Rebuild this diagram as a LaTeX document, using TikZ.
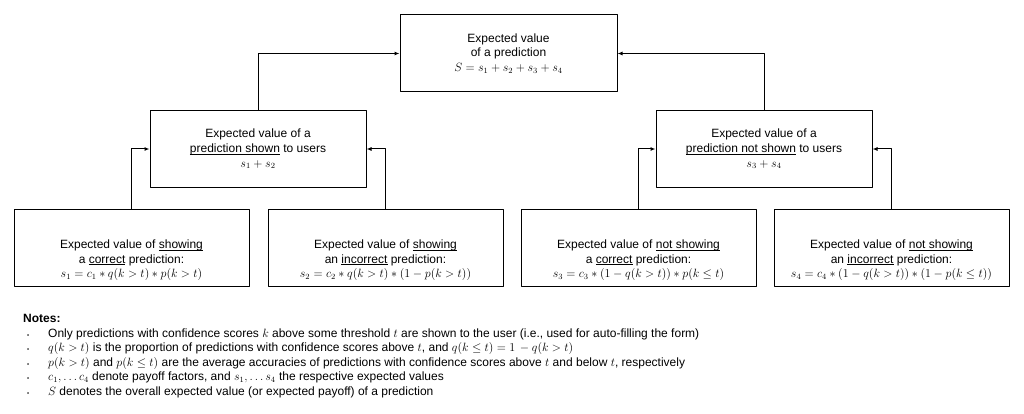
\documentclass[tikz,border=0pt]{standalone}
\usepackage{fontspec}
\setmainfont{Liberation Sans}
\usetikzlibrary{arrows.meta}
\newcommand{\undr}[1]{\setbox0\hbox{#1}\rlap{\rule[-1.8pt]{\wd0}{0.7pt}}\box0\relax}
\newcommand{\nbul}{\hspace*{4pt}\makebox[21pt][l]{\fontsize{6}{6}\selectfont\textbullet}}
\begin{document}
\begin{tikzpicture}[x=1pt,y=-1pt,>={Latex[length=5pt,width=4pt]},line join=round,
		font=\fontsize{12}{14.6}\selectfont,
		box/.style={draw,line width=1pt,minimum width=#1,minimum height=77pt,inner sep=0pt,align=center},
		txt/.style={inner sep=0pt,align=center},
		link/.style={->,line width=1pt}]
	\useasboundingbox (0,0) rectangle (1024,414);
	\node[box=217pt] (pred) at (508.5,53.5) {Expected value\\ of a prediction\\ $S = s_1 + s_2 + s_3 + s_4$};
	\node[box=216pt,minimum height=76pt] (shown) at (258,149) {Expected value of a\\ \undr{prediction shown} to users\\ $s_1 + s_2$};
	\node[box=216pt,minimum height=76pt] (notshown) at (764,149) {Expected value of a\\ \undr{prediction not shown} to users\\ $s_3 + s_4$};
	\node[box=235pt] (sc) at (131.5,247.5) {};
	\node[box=235pt] (si) at (385.5,247.5) {};
	\node[box=235pt] (nc) at (638.5,247.5) {};
	\node[box=235pt] (ni) at (891.5,247.5) {};
	\node[txt] (sc-t) at ([yshift=-13pt]sc.center) {Expected value of \undr{showing}\\ a \undr{correct} prediction:\\ $s_1 = c_1 * q(k>t) * p(k>t)$};
	\node[txt] (si-t) at ([yshift=-13pt]si.center) {Expected value of \undr{showing}\\ an \undr{incorrect} prediction:\\ $s_2 = c_2 * q(k>t) * \bigl(1 - p(k>t)\bigr)$};
	\node[txt] (nc-t) at ([yshift=-13pt]nc.center) {Expected value of \undr{not showing}\\ a \undr{correct} prediction:\\ $s_3 = c_3 * \bigl(1 - q(k>t)\bigr) * p(k\le t)$};
	\node[txt] (ni-t) at ([yshift=-13pt]ni.center) {Expected value of \undr{not showing}\\ an \undr{incorrect} prediction:\\ $s_4 = c_4 * \bigl(1 - q(k>t)\bigr) * \bigl(1 - p(k\le t)\bigr)$};
	\foreach \a/\b in {sc/shown,si/shown,nc/notshown,ni/notshown,shown/pred,notshown/pred}
		\draw[link] (\a.north) |- (\b);
	\node[anchor=north west,align=left,inner sep=0pt] (notes) at (23,314) {\textbf{Notes:}\\
		\nbul Only predictions with confidence scores $k$ above some threshold $t$ are shown to the user (i.e., used for auto-filling the form)\\
		\nbul $q(k>t)$ is the proportion of predictions with confidence scores above $t$, and $q(k\le t) = 1\,- q(k>t)$\\
		\nbul $p(k>t)$ and $p(k\le t)$ are the average accuracies of predictions with confidence scores above $t$ and below $t$, respectively\\
		\nbul $c_1, \ldots c_4$ denote payoff factors, and $s_1, \ldots s_4$ the respective expected values\\
		\nbul $S$ denotes the overall expected value (or expected payoff) of a prediction};
\end{tikzpicture}
\end{document}
